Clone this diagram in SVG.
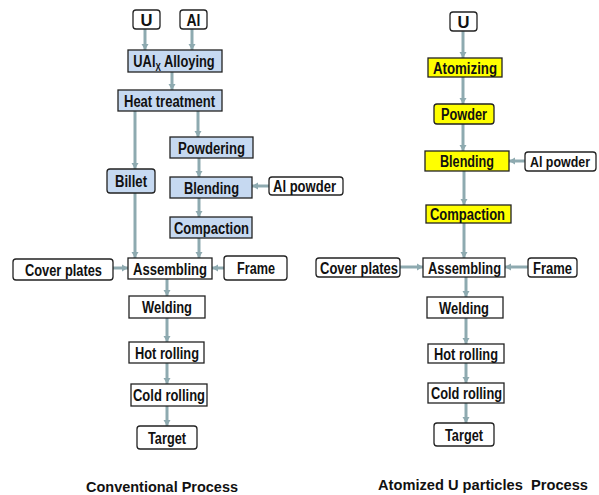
<svg xmlns="http://www.w3.org/2000/svg" width="599" height="495" viewBox="0 0 599 495">
<style>
.b{stroke:#222;stroke-width:1.3}
.w{fill:#fff}
.bl{fill:#c6d9f1}
.y{fill:#ffff00}
text{font-family:"Liberation Sans",Arial,sans-serif;font-weight:bold;font-size:16px;fill:#111;text-anchor:middle}
.c line{stroke:#8eaab0;stroke-width:3;marker-end:url(#ah)}
.ti{font-size:15px}
</style>
<defs>
<marker id="ah" markerUnits="userSpaceOnUse" markerWidth="8" markerHeight="8" refX="6" refY="4" orient="auto">
<path d="M0,0.5 L6,4 L0,7.5 Z" fill="#8eaab0"/>
</marker>
</defs>
<g id="connectors" class="c">
<line x1="145" y1="29" x2="145" y2="50"/>
<line x1="192" y1="29" x2="192" y2="50"/>
<line x1="172" y1="72" x2="172" y2="90"/>
<line x1="198" y1="111" x2="198" y2="137"/>
<line x1="135" y1="111" x2="135" y2="169"/>
<line x1="199" y1="158" x2="199" y2="177"/>
<line x1="269" y1="186" x2="252" y2="186"/>
<line x1="199" y1="198" x2="199" y2="217"/>
<line x1="199" y1="238" x2="199" y2="258"/>
<line x1="135" y1="193" x2="135" y2="258"/>
<line x1="113" y1="268" x2="128" y2="268"/>
<line x1="224" y1="268" x2="212" y2="268"/>
<line x1="167" y1="279" x2="167" y2="296"/>
<line x1="167" y1="318" x2="167" y2="342"/>
<line x1="167" y1="363" x2="167" y2="384"/>
<line x1="167" y1="406" x2="167" y2="426"/>
<line x1="463" y1="31" x2="463" y2="58"/>
<line x1="463" y1="77" x2="463" y2="104"/>
<line x1="463" y1="124" x2="463" y2="151"/>
<line x1="525" y1="161" x2="509" y2="161"/>
<line x1="464" y1="171" x2="464" y2="205"/>
<line x1="464" y1="223" x2="464" y2="258"/>
<line x1="400" y1="267" x2="423" y2="267"/>
<line x1="528" y1="267" x2="505" y2="267"/>
<line x1="466" y1="277" x2="466" y2="297"/>
<line x1="466" y1="318" x2="466" y2="344"/>
<line x1="466" y1="363" x2="466" y2="383"/>
<line x1="466" y1="403" x2="466" y2="423"/>
</g>
<g id="L_U"><rect class="b w" x="133" y="10" width="27" height="19" rx="3"/><text x="146.5" y="25.5" textLength="12" lengthAdjust="spacingAndGlyphs">U</text></g>
<g id="L_Al"><rect class="b w" x="180" y="10" width="27" height="19" rx="3"/><text x="193.5" y="25.5" textLength="14" lengthAdjust="spacingAndGlyphs">Al</text></g>
<g id="L_Alloying"><rect class="b bl" x="128" y="50" width="94" height="22"/><text transform="translate(174,67) scale(0.805,1)" x="0" y="0">UAl<tspan dy="4" style="font-size:10px">X</tspan><tspan dy="-4"> Alloying</tspan></text></g>
<g id="L_Heat"><rect class="b bl" x="118" y="90" width="104" height="21"/><text x="169.5" y="106.5" textLength="91" lengthAdjust="spacingAndGlyphs">Heat treatment</text></g>
<g id="L_Powdering"><rect class="b bl" x="170" y="137" width="83" height="21"/><text x="211.5" y="153.5" textLength="67" lengthAdjust="spacingAndGlyphs">Powdering</text></g>
<g id="L_Billet"><rect class="b bl" x="107" y="169" width="48" height="24" rx="3"/><text x="131" y="187" textLength="32" lengthAdjust="spacingAndGlyphs">Billet</text></g>
<g id="L_Blending"><rect class="b bl" x="170" y="177" width="82" height="21"/><text x="211.5" y="193.5" textLength="55" lengthAdjust="spacingAndGlyphs">Blending</text></g>
<g id="L_AlPowder"><rect class="b w" x="269" y="177" width="74" height="18" rx="3"/><text x="304.5" y="192" textLength="63" lengthAdjust="spacingAndGlyphs">Al powder</text></g>
<g id="L_Compaction"><rect class="b bl" x="170" y="217" width="82" height="21"/><text x="211.5" y="233.5" textLength="75" lengthAdjust="spacingAndGlyphs">Compaction</text></g>
<g id="L_Cover"><rect class="b w" x="13" y="259" width="100" height="21" rx="3"/><text x="63.5" y="275.5" textLength="77" lengthAdjust="spacingAndGlyphs">Cover plates</text></g>
<g id="L_Assembling"><rect class="b w" x="128" y="258" width="84" height="21"/><text x="170" y="274.5" textLength="74" lengthAdjust="spacingAndGlyphs">Assembling</text></g>
<g id="L_Frame"><rect class="b w" x="224" y="256" width="63" height="24" rx="3"/><text x="256" y="273.5" textLength="38" lengthAdjust="spacingAndGlyphs">Frame</text></g>
<g id="L_Welding"><rect class="b w" x="129" y="296" width="76" height="22"/><text x="167" y="313" textLength="50" lengthAdjust="spacingAndGlyphs">Welding</text></g>
<g id="L_Hot"><rect class="b w" x="129" y="342" width="75" height="21"/><text x="167" y="358.5" textLength="64" lengthAdjust="spacingAndGlyphs">Hot rolling</text></g>
<g id="L_Cold"><rect class="b w" x="131" y="384" width="76" height="22"/><text x="169" y="401" textLength="72" lengthAdjust="spacingAndGlyphs">Cold rolling</text></g>
<g id="L_Target"><rect class="b w" x="137" y="426" width="60" height="23" rx="3"/><text x="167" y="443.5" textLength="38" lengthAdjust="spacingAndGlyphs">Target</text></g>
<g id="R_U"><rect class="b w" x="450" y="12" width="27" height="19" rx="3"/><text x="463.5" y="27.5" textLength="12" lengthAdjust="spacingAndGlyphs">U</text></g>
<g id="R_Atomizing"><rect class="b y" x="428" y="58" width="74" height="19"/><text x="465" y="73.5" textLength="64" lengthAdjust="spacingAndGlyphs">Atomizing</text></g>
<g id="R_Powder"><rect class="b y" x="434" y="104" width="60" height="20" rx="3"/><text x="464" y="120" textLength="46" lengthAdjust="spacingAndGlyphs">Powder</text></g>
<g id="R_Blending"><rect class="b y" x="425" y="151" width="84" height="20"/><text x="467" y="167" textLength="54" lengthAdjust="spacingAndGlyphs">Blending</text></g>
<g id="R_AlPowder"><rect class="b w" x="525" y="152" width="71" height="19" rx="3"/><text x="560" y="167" style="font-size:15px" textLength="60" lengthAdjust="spacingAndGlyphs">Al powder</text></g>
<g id="R_Compaction"><rect class="b y" x="426" y="205" width="85" height="18"/><text x="467.5" y="220" textLength="75" lengthAdjust="spacingAndGlyphs">Compaction</text></g>
<g id="R_Cover"><rect class="b w" x="316" y="258" width="84" height="19" rx="3"/><text x="359" y="273.5" textLength="78" lengthAdjust="spacingAndGlyphs">Cover plates</text></g>
<g id="R_Assembling"><rect class="b w" x="423" y="258" width="82" height="19"/><text x="464.5" y="273.5" textLength="73" lengthAdjust="spacingAndGlyphs">Assembling</text></g>
<g id="R_Frame"><rect class="b w" x="528" y="258" width="49" height="19" rx="3"/><text x="552.5" y="273.5" textLength="39" lengthAdjust="spacingAndGlyphs">Frame</text></g>
<g id="R_Welding"><rect class="b w" x="427" y="297" width="76" height="21"/><text x="464" y="313.5" textLength="50" lengthAdjust="spacingAndGlyphs">Welding</text></g>
<g id="R_Hot"><rect class="b w" x="428" y="344" width="76" height="19"/><text x="466" y="359.5" textLength="64" lengthAdjust="spacingAndGlyphs">Hot rolling</text></g>
<g id="R_Cold"><rect class="b w" x="428" y="383" width="76" height="20"/><text x="466.5" y="399" textLength="71" lengthAdjust="spacingAndGlyphs">Cold rolling</text></g>
<g id="R_Target"><rect class="b w" x="434" y="423" width="60" height="23" rx="3"/><text x="464" y="440.5" textLength="38" lengthAdjust="spacingAndGlyphs">Target</text></g>
<g id="titles">
<text class="ti" x="162" y="492" textLength="152" lengthAdjust="spacingAndGlyphs">Conventional Process</text>
<text class="ti" x="483" y="490" xml:space="preserve" textLength="210" lengthAdjust="spacingAndGlyphs">Atomized U particles  Process</text>
</g>
</svg>
